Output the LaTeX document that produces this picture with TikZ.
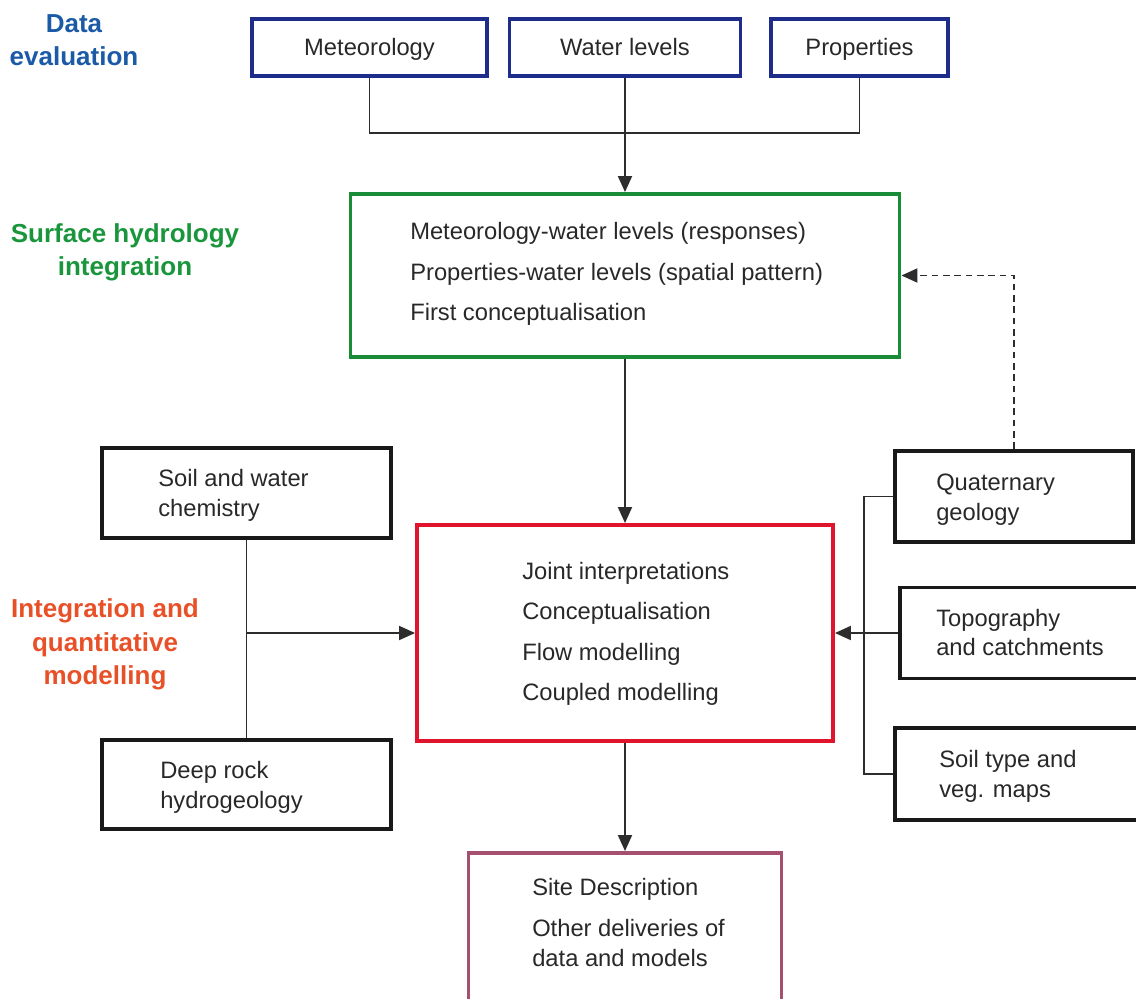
\documentclass[tikz,border=0pt]{standalone}
\usepackage{fontspec}
\setmainfont{Liberation Sans}
\usetikzlibrary{arrows.meta}
\definecolor{boxblue}{RGB}{30,45,140}
\definecolor{lblblue}{RGB}{27,90,166}
\definecolor{boxgreen}{RGB}{25,140,55}
\definecolor{lblgreen}{RGB}{25,150,60}
\definecolor{boxred}{RGB}{225,20,45}
\definecolor{lblorange}{RGB}{232,80,40}
\definecolor{boxpink}{RGB}{165,80,110}
\definecolor{textgray}{RGB}{40,40,40}
\definecolor{linegray}{RGB}{45,45,45}
\newcommand{\bodyfnt}{\fontsize{17.8}{22}\selectfont}
\newcommand{\lblfnt}{\fontsize{19.5}{24.9}\selectfont\bfseries}
\begin{document}
\begin{tikzpicture}[x=0.75pt,y=-0.75pt,
  bx/.style={draw, line width=2.9pt, inner sep=0pt, font=\bodyfnt, text=textgray},
  topbox/.style={bx, draw=boxblue, minimum height=42.75pt, text height=12.7pt, text depth=0pt},
  blackbox/.style={bx, draw=black!90},
  txt/.style={anchor=base west, inner sep=0pt, font=\bodyfnt, text=textgray},
  lbl/.style={align=center, inner sep=0pt, font=\lblfnt},
  conn/.style={line width=1.4pt, draw=linegray},
  tip/.style={-{Triangle[length=12pt,width=10.5pt]}},
  arr/.style={conn, tip},
  dashline/.style={conn, dash pattern=on 5pt off 3.5pt, tip},
]
\clip (0,0) rectangle (1136,999);

% stage labels
\node[lbl, text=lblblue] (l1) at (74,40.5) {Data\\evaluation};
\node[lbl, text=lblgreen] (l2) at (125,252.5) {Surface hydrology\\integration};
\node[lbl, text=lblorange] (l3) at (105,644.5) {Integration and\\quantitative\\modelling};

% top data boxes
\node[topbox, minimum width=176.25pt] (met) at (369.5,47.5) {Meteorology};
\node[topbox, minimum width=173.25pt] (wat) at (625,47.5) {Water levels};
\node[topbox, minimum width=132.75pt] (prop) at (859.5,47.5) {Properties};

% surface hydrology box
\node[bx, draw=boxgreen, minimum width=411.75pt, minimum height=122.25pt] (surf) at (625,275.5) {};
\node[txt] (surf1) at (410,239) {Meteorology-water levels (responses)};
\node[txt] (surf2) at (410,280) {Properties-water levels (spatial pattern)};
\node[txt] (surf3) at (410,320) {First conceptualisation};

% integration box
\node[bx, draw=boxred, minimum width=312pt, minimum height=162pt] (joint) at (625,633) {};
\node[txt] (joint1) at (522,579) {Joint interpretations};
\node[txt] (joint2) at (522,619) {Conceptualisation};
\node[txt] (joint3) at (522,660) {Flow modelling};
\node[txt] (joint4) at (522,700) {Coupled modelling};

% site description box
\node[bx, draw=boxpink, minimum width=234.75pt, minimum height=117.75pt] (site) at (625,931.5) {};
\node[txt] (site1) at (532,895) {Site Description};
\node[txt] (site2) at (532,936) {Other deliveries of};
\node[txt] (site3) at (532,966) {data and models};

% left boxes
\node[blackbox, minimum width=216.75pt, minimum height=67.5pt] (chem) at (246.5,493) {};
\node[txt] (chem1) at (158,486) {Soil and water};
\node[txt] (chem2) at (158,516) {chemistry};
\node[blackbox, minimum width=216.75pt, minimum height=66.75pt] (deep) at (246.5,784.5) {};
\node[txt] (deep1) at (160,778) {Deep rock};
\node[txt] (deep2) at (160,808) {hydrogeology};

% right boxes
\node[blackbox, minimum width=178.5pt, minimum height=68.25pt] (quat) at (1014,496.5) {};
\node[txt] (quat1) at (936,490) {Quaternary};
\node[txt] (quat2) at (936,520) {geology};
\node[blackbox, minimum width=187.5pt, minimum height=68.25pt] (topo) at (1025,633) {};
\node[txt] (topo1) at (936,626) {Topography};
\node[txt] (topo2) at (936,655) {and catchments};
\node[blackbox, minimum width=191.25pt, minimum height=69pt] (soilt) at (1022.5,774) {};
\node[txt] (soilt1) at (939,767) {Soil type and};
\node[txt] (soilt2) at (939,797) {veg. maps};

% connectors
\coordinate (tj) at (625,133);
\draw[conn] (met.south) |- (tj) -| (prop.south);
\draw[arr] (wat.south) -- (surf.north);
\draw[arr] (surf.south) -- (joint.north);
\draw[arr] (joint.south) -- (site.north);

\draw[conn] (chem.south) -- (deep.north);
\coordinate (lj) at (chem.south |- joint.west);
\draw[arr] (lj) -- (joint.west);

\coordinate (rtop) at (864,496.5);
\coordinate (rbot) at (864,774);
\draw[conn] (quat.west) -- (rtop) -- (rbot) -- (soilt.west);
\draw[arr] (topo.west) -- (joint.east);

\draw[dashline] (quat.north) |- (surf.east);
\end{tikzpicture}
\end{document}
